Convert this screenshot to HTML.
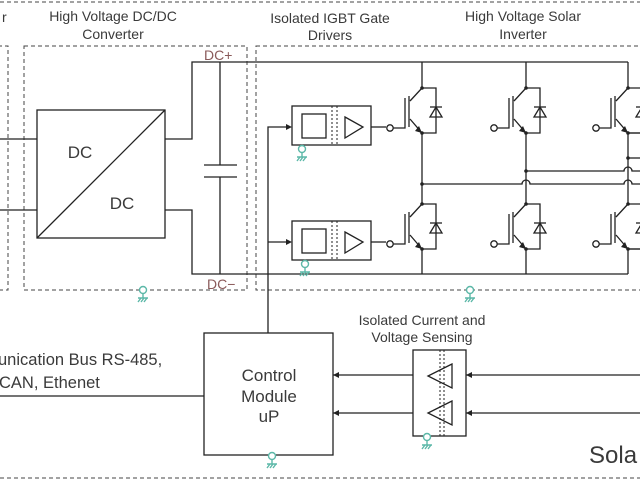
<!DOCTYPE html>
<html><head><meta charset="utf-8"><style>
html,body{margin:0;padding:0;background:#fff;width:640px;height:480px;overflow:hidden}
svg{display:block}
text{font-family:"Liberation Sans",sans-serif;fill:#3a3a3a}
</style></head><body>
<svg width="640" height="480" viewBox="0 0 640 480" xmlns="http://www.w3.org/2000/svg">
<defs>
<symbol id="igbt" overflow="visible">
<g stroke="#222" stroke-width="1.3" fill="none">
<circle cx="-32" cy="40" r="3.2" fill="#fff"/>
<path d="M-29 40H-17V10"/>
<path d="M-13 8V39"/>
<path d="M-12 13L0 0M-12 31L0 45"/>
<path d="M0 0H14V45H0"/>
<path d="M8 29H20L14 19Z"/>
<path d="M8 19H20"/>
</g>
<path d="M0 45L-7 43L-3 38Z" fill="#222"/>
<circle cx="0" cy="0" r="1.8" fill="#222"/>
<circle cx="0" cy="45" r="1.8" fill="#222"/>
</symbol>
<symbol id="gnd" overflow="visible">
<g stroke="#5cb8a8" stroke-width="1.4" fill="none">
<circle cx="0" cy="0" r="3.5" fill="#fff"/>
<path d="M0 3.5V8M-5 8H5M-5 12L-2 8M-2 12L1 8M1 12L4 8"/>
</g>
</symbol>
<symbol id="drv" overflow="visible">
<g stroke="#222" stroke-width="1.3" fill="none">
<rect x="0" y="0" width="79" height="39"/>
<rect x="10" y="8" width="24" height="24"/>
<path d="M40 0V39M45 0V39" stroke-dasharray="2 2" stroke-width="1"/>
<path d="M53 11L71 21L53 32Z"/>
<path d="M79 21H94"/>
</g>
</symbol>
</defs>

<g stroke="#444" stroke-width="1" fill="none" stroke-dasharray="4 3">
<path d="M0 2H640"/>
<path d="M0 478H640"/>
<path d="M-2 46H8V290H-2"/>
<rect x="24" y="46" width="223" height="244"/>
<rect x="256" y="46" width="390" height="244"/>
</g>

<text x="2" y="22" font-size="14">r</text>
<text x="113" y="21" font-size="14" text-anchor="middle">High Voltage DC/DC</text>
<text x="113" y="39" font-size="14" text-anchor="middle">Converter</text>
<text x="330" y="23" font-size="14" text-anchor="middle">Isolated IGBT Gate</text>
<text x="330" y="40" font-size="14" text-anchor="middle">Drivers</text>
<text x="523" y="21" font-size="14" text-anchor="middle">High Voltage Solar</text>
<text x="523" y="39" font-size="14" text-anchor="middle">Inverter</text>

<g stroke="#222" stroke-width="1.3" fill="none">
<path d="M0 139H37M0 210H37"/>
<rect x="37" y="110" width="128" height="128"/>
<path d="M37 238L165 110"/>
<path d="M165 139H192V62H628"/>
<path d="M165 210H192V274H628"/>
<path d="M220 62V165M204 165H237M204 177H237M220 177V274"/>
<path d="M422 62V88M422 133V204M422 249V274"/>
<path d="M526 62V88M526 133V204M526 249V274"/>
<path d="M628 62V88M628 133V204M628 249V274"/>
<path d="M628 133H640M628 249H640"/>
<path d="M422 184H522A4 4 0 0 1 530 184H624A4 4 0 0 1 632 184H640"/>
<path d="M526 171H624A4 4 0 0 1 632 171H640"/>
<path d="M628 158H640"/>
<path d="M268 333V127H290M268 242H290"/>
<rect x="204" y="333" width="129" height="122"/>
<path d="M0 396H204"/>
<path d="M333 375H413M333 413H413"/>
<path d="M466 375H640M466 413H640"/>
<rect x="413" y="350" width="53" height="86"/>
<path d="M440 350V436M444 350V436" stroke-dasharray="2 2" stroke-width="1"/>
<path d="M452 364L428 376L452 388Z"/>
<path d="M452 401L428 413L452 425Z"/>
</g>
<g fill="#222">
<path d="M292 127L286 124V130Z"/>
<path d="M292 242L286 239V245Z"/>
<path d="M333 375L339 372V378Z"/>
<path d="M333 413L339 410V416Z"/>
<path d="M466 375L472 372V378Z"/>
<path d="M466 413L472 410V416Z"/>
<circle cx="422" cy="184" r="1.8"/>
<circle cx="526" cy="171" r="1.8"/>
<circle cx="628" cy="158" r="1.8"/>
</g>

<use href="#drv" x="292" y="106"/>
<use href="#drv" x="292" y="221"/>

<use href="#igbt" x="422" y="88"/>
<use href="#igbt" x="526" y="88"/>
<use href="#igbt" x="628" y="88"/>
<use href="#igbt" x="422" y="204"/>
<use href="#igbt" x="526" y="204"/>
<use href="#igbt" x="628" y="204"/>

<use href="#gnd" x="302" y="149"/>
<use href="#gnd" x="305" y="264"/>
<use href="#gnd" x="143" y="290"/>
<use href="#gnd" x="470" y="290"/>
<use href="#gnd" x="272" y="456"/>
<use href="#gnd" x="427" y="437"/>

<text x="80" y="158" font-size="17" text-anchor="middle">DC</text>
<text x="122" y="209" font-size="17" text-anchor="middle">DC</text>
<text x="204" y="60" font-size="14" style="fill:#8a5a5a">DC+</text>
<text x="207" y="289" font-size="14" style="fill:#8a5a5a">DC−</text>

<text x="269" y="381" font-size="17" text-anchor="middle">Control</text>
<text x="269" y="402" font-size="17" text-anchor="middle">Module</text>
<text x="269" y="422" font-size="17" text-anchor="middle">uP</text>
<text x="-2" y="365" font-size="16.5">unication Bus RS-485,</text>
<text x="-1" y="388" font-size="16.5">CAN, Ethenet</text>
<text x="422" y="325" font-size="14" text-anchor="middle">Isolated Current and</text>
<text x="422" y="342" font-size="14" text-anchor="middle">Voltage Sensing</text>
<text x="589" y="463" font-size="24">Sola</text>
</svg>
</body></html>
